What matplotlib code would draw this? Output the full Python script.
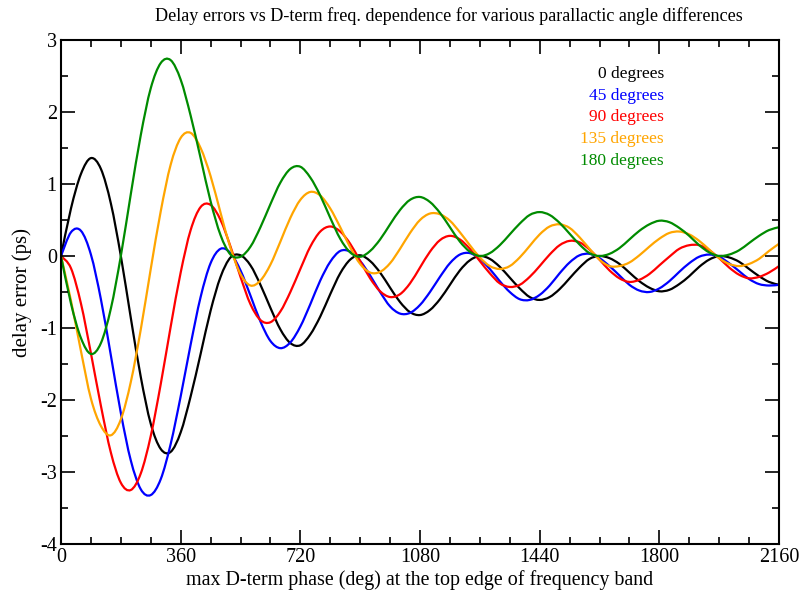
import matplotlib
matplotlib.use("Agg")
import matplotlib.pyplot as plt
from matplotlib.path import Path
from matplotlib.patches import PathPatch
from matplotlib.ticker import MultipleLocator

plt.rcParams['font.family'] = ['Liberation Serif', 'DejaVu Serif']
plt.rcParams['axes.unicode_minus'] = False

# phase grid (deg), one value every 30 deg
phase = list(range(0, 2161, 30))

# 0 degrees
err_0 = [0.00, 0.66, 1.14, 1.36, 1.21, 0.73, 0.00, -0.86, -1.68, -2.33,
         -2.68, -2.72, -2.45, -1.95, -1.36, -0.76, -0.29, -0.02, 0.01, -0.13,
         -0.40, -0.72, -1.02, -1.21, -1.24, -1.09, -0.84, -0.53, -0.24, -0.05,
         0.01, -0.07, -0.23, -0.44, -0.64, -0.78, -0.82, -0.75, -0.60, -0.40,
         -0.20, -0.06, 0.00, -0.04, -0.15, -0.30, -0.45, -0.57, -0.61, -0.57,
         -0.46, -0.31, -0.16, -0.04, 0.00, -0.03, -0.11, -0.23, -0.35, -0.44,
         -0.49, -0.47, -0.39, -0.28, -0.15, -0.05, 0.00, -0.02, -0.08, -0.18,
         -0.28, -0.36, -0.40]

# 45 degrees
err_45 = [0.00, 0.33, 0.35, 0.02, -0.60, -1.38, -2.18, -2.84, -3.24, -3.32,
          -3.10, -2.61, -1.95, -1.23, -0.57, -0.10, 0.10, 0.04, -0.20, -0.55,
          -0.91, -1.18, -1.28, -1.20, -0.98, -0.67, -0.34, -0.08, 0.07, 0.06,
          -0.07, -0.27, -0.50, -0.70, -0.80, -0.79, -0.68, -0.50, -0.29, -0.10,
          0.02, 0.04, -0.04, -0.18, -0.35, -0.50, -0.60, -0.61, -0.54, -0.41,
          -0.24, -0.09, 0.01, 0.03, -0.03, -0.14, -0.27, -0.40, -0.48, -0.50,
          -0.45, -0.35, -0.22, -0.10, -0.01, 0.02, -0.01, -0.10, -0.21, -0.32,
          -0.39, -0.41, -0.40]

# 90 degrees
err_90 = [0.00, -0.17, -0.66, -1.35, -2.08, -2.73, -3.15, -3.25, -3.02, -2.50,
          -1.78, -0.98, -0.23, 0.36, 0.68, 0.71, 0.50, 0.13, -0.29, -0.67,
          -0.89, -0.92, -0.77, -0.50, -0.18, 0.13, 0.34, 0.41, 0.34, 0.17,
          -0.07, -0.31, -0.49, -0.57, -0.53, -0.38, -0.16, 0.06, 0.22, 0.28,
          0.23, 0.10, -0.07, -0.24, -0.38, -0.43, -0.40, -0.29, -0.14, 0.02,
          0.15, 0.21, 0.19, 0.09, -0.05, -0.20, -0.31, -0.36, -0.33, -0.25,
          -0.13, -0.01, 0.10, 0.15, 0.15, 0.08, -0.03, -0.16, -0.26, -0.31,
          -0.29, -0.23, -0.14]

# 135 degrees
err_135 = [0.00, -0.62, -1.32, -1.98, -2.36, -2.49, -2.27, -1.75, -1.02, -0.18,
           0.62, 1.27, 1.64, 1.71, 1.50, 1.11, 0.60, 0.11, -0.25, -0.41,
           -0.34, -0.12, 0.20, 0.53, 0.78, 0.89, 0.84, 0.66, 0.40, 0.12,
           -0.11, -0.23, -0.22, -0.10, 0.10, 0.32, 0.50, 0.59, 0.58, 0.49,
           0.33, 0.15, -0.02, -0.14, -0.18, -0.14, -0.02, 0.14, 0.30, 0.41,
           0.44, 0.39, 0.26, 0.10, -0.05, -0.14, -0.14, -0.09, 0.01, 0.13,
           0.24, 0.32, 0.34, 0.30, 0.21, 0.09, -0.03, -0.11, -0.14, -0.11,
           -0.04, 0.07, 0.17]

# 180 degrees
err_180 = [0.00, -0.66, -1.14, -1.36, -1.21, -0.73, 0.00, 0.86, 1.68, 2.33,
           2.68, 2.72, 2.45, 1.95, 1.36, 0.76, 0.29, 0.02, -0.01, 0.13,
           0.40, 0.72, 1.02, 1.21, 1.24, 1.09, 0.84, 0.53, 0.24, 0.05,
           -0.01, 0.07, 0.23, 0.44, 0.64, 0.78, 0.82, 0.75, 0.60, 0.40,
           0.20, 0.06, 0.00, 0.04, 0.15, 0.30, 0.45, 0.57, 0.61, 0.57,
           0.46, 0.31, 0.16, 0.04, 0.00, 0.03, 0.11, 0.23, 0.35, 0.44,
           0.49, 0.47, 0.39, 0.28, 0.15, 0.05, 0.00, 0.02, 0.08, 0.18,
           0.28, 0.36, 0.40]

labels = ['0 degrees', '45 degrees', '90 degrees', '135 degrees', '180 degrees']
colors = ['black', '#0000ff', '#ff0000', '#ffa500', '#008b00']
series = [err_0, err_45, err_90, err_135, err_180]


def smooth_path(xs, ys):
    # cubic bezier through the points (catmull-rom tangents), drawn by matplotlib
    pts = list(zip(xs, ys))
    verts = [pts[0]]
    codes = [Path.MOVETO]
    n = len(pts)
    for i in range(n - 1):
        p0 = pts[i - 1] if i > 0 else pts[i]
        p1 = pts[i]
        p2 = pts[i + 1]
        p3 = pts[i + 2] if i + 2 < n else pts[i + 1]
        c1 = (p1[0] + (p2[0] - p0[0]) / 6, p1[1] + (p2[1] - p0[1]) / 6)
        c2 = (p2[0] - (p3[0] - p1[0]) / 6, p2[1] - (p3[1] - p1[1]) / 6)
        verts += [c1, c2, p2]
        codes += [Path.CURVE4] * 3
    return Path(verts, codes)


fig = plt.figure(figsize=(8, 5.92), dpi=100)
ax = fig.add_axes([0.07625, 0.0811, 0.8975, 0.8513])

for vals, c in zip(series, colors):
    ax.add_patch(PathPatch(smooth_path(phase, vals), fill=False,
                           edgecolor=c, lw=1.6))

ax.set_xlim(0, 2160)
ax.set_ylim(-4, 3)
ax.xaxis.set_major_locator(MultipleLocator(360))
ax.xaxis.set_minor_locator(MultipleLocator(90))
ax.yaxis.set_major_locator(MultipleLocator(1))
ax.yaxis.set_minor_locator(MultipleLocator(0.5))
ax.tick_params(which='both', direction='in', top=True, right=True, width=1.2,
               labelsize=14.5)
ax.tick_params(which='major', length=10, pad=3)
ax.tick_params(which='minor', length=5)
for s in ax.spines.values():
    s.set_linewidth(1.5)

# title sits right of the axes centre in the original
fig.text(449 / 800, 1 - 16 / 592,
         'Delay errors vs D-term freq. dependence for various parallactic angle differences',
         fontsize=13.1, ha='center', va='center')
ax.set_xlabel('max D-term phase (deg) at the top edge of frequency band', fontsize=14.4, labelpad=2)
ax.set_ylabel('delay error (ps)', fontsize=15, labelpad=6)

# legend as coloured text, right aligned
for i, (lab, c) in enumerate(zip(labels, colors)):
    ax.text(0.84, 0.933 - i * 0.0432, lab, color=c, fontsize=12.5,
            ha='right', va='center', transform=ax.transAxes)

fig.savefig('out.png', dpi=100)
